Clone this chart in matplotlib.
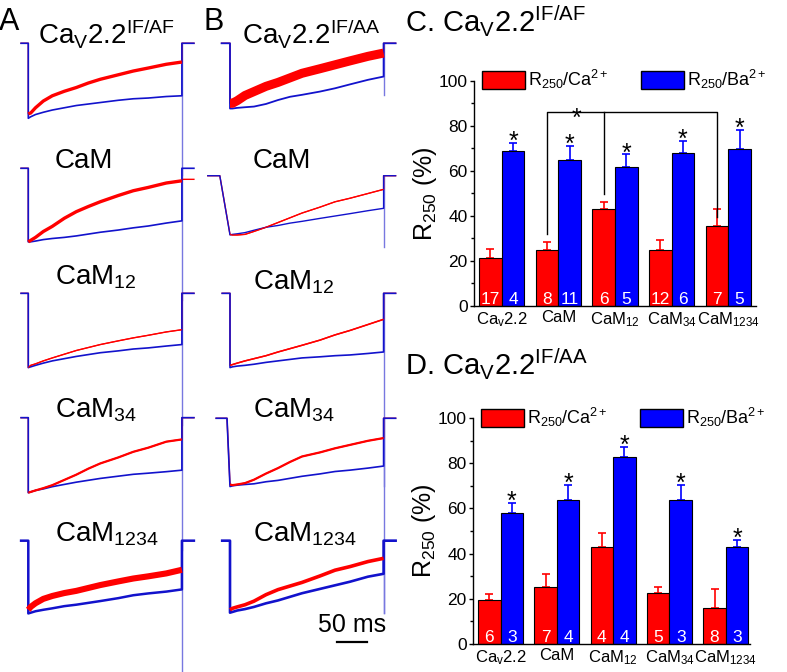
import numpy as np
import matplotlib
matplotlib.use('Agg')
import matplotlib.pyplot as plt
from matplotlib.patches import Patch

plt.rcParams['font.family'] = ['Liberation Sans', 'DejaVu Sans']
plt.rcParams['mathtext.fontset'] = 'custom'
plt.rcParams['mathtext.rm'] = 'Liberation Sans'
plt.rcParams['mathtext.it'] = 'Liberation Sans:italic'
plt.rcParams['mathtext.bf'] = 'Liberation Sans:bold'

# ---- bar data (R250, %) ----
groups = ['Ca$_\\mathrm{v}$2.2', 'CaM', 'CaM$_{12}$', 'CaM$_{34}$', 'CaM$_{1234}$']
c_ca = [21.5, 25.0, 43.0, 25.0, 35.5]
c_ca_err = [4.0, 3.5, 3.2, 4.2, 7.6]
c_ba = [68.8, 65.0, 61.7, 68.0, 69.7]
c_ba_err = [3.8, 6.1, 5.7, 5.5, 8.7]
c_n_ca = [17, 8, 6, 12, 7]
c_n_ba = [4, 11, 5, 6, 5]

d_ca = [19.6, 25.3, 43.0, 22.5, 16.1]
d_ca_err = [2.5, 5.6, 6.3, 2.7, 8.1]
d_ba = [58.0, 63.6, 82.8, 63.6, 42.9]
d_ba_err = [4.6, 6.8, 4.5, 6.8, 3.1]
d_n_ca = [6, 7, 4, 5, 8]
d_n_ba = [3, 4, 4, 3, 3]

# ---- current traces, fraction of peak inward current ----
t_ms = [0, 4, 12, 25, 40, 60, 80, 100, 120, 150, 175, 200, 230, 256]
a_labels = ['Ca$_\\mathrm{V}$2.2$^\\mathrm{IF/AF}$', 'CaM', 'CaM$_{12}$', 'CaM$_{34}$', 'CaM$_{1234}$']
b_labels = ['Ca$_\\mathrm{V}$2.2$^\\mathrm{IF/AA}$', 'CaM', 'CaM$_{12}$', 'CaM$_{34}$', 'CaM$_{1234}$']

a_ca = [[0.94, 0.93, 0.86, 0.77, 0.70, 0.64, 0.59, 0.53, 0.48, 0.42, 0.37, 0.33, 0.28, 0.25],
        [1.00, 0.98, 0.94, 0.86, 0.79, 0.68, 0.59, 0.52, 0.455, 0.37, 0.305, 0.26, 0.20, 0.17],
        [1.00, 0.97, 0.95, 0.91, 0.87, 0.82, 0.77, 0.73, 0.69, 0.64, 0.60, 0.565, 0.52, 0.49],
        [1.00, 0.99, 0.97, 0.94, 0.90, 0.83, 0.76, 0.68, 0.61, 0.53, 0.455, 0.40, 0.32, 0.29],
        [0.95, 0.91, 0.86, 0.80, 0.76, 0.72, 0.69, 0.65, 0.61, 0.56, 0.52, 0.49, 0.45, 0.40]]
a_ba = [[1.00, 0.98, 0.95, 0.92, 0.89, 0.86, 0.83, 0.81, 0.79, 0.76, 0.74, 0.73, 0.71, 0.70],
        [1.00, 1.00, 0.99, 0.97, 0.955, 0.94, 0.92, 0.895, 0.87, 0.84, 0.81, 0.785, 0.745, 0.715],
        [1.00, 0.99, 0.97, 0.94, 0.91, 0.88, 0.85, 0.825, 0.80, 0.775, 0.75, 0.735, 0.71, 0.69],
        [1.00, 0.99, 0.97, 0.95, 0.92, 0.89, 0.86, 0.835, 0.81, 0.78, 0.755, 0.74, 0.72, 0.70],
        [1.00, 0.99, 0.97, 0.95, 0.93, 0.90, 0.88, 0.855, 0.83, 0.79, 0.75, 0.725, 0.70, 0.67]]
b_ca = [[0.92, 0.92, 0.88, 0.80, 0.74, 0.66, 0.60, 0.53, 0.46, 0.39, 0.33, 0.27, 0.20, 0.15],
        [0.99, 1.00, 1.00, 0.99, 0.94, 0.87, 0.79, 0.71, 0.63, 0.53, 0.44, 0.38, 0.30, 0.23],
        [0.97, 0.96, 0.94, 0.91, 0.88, 0.84, 0.79, 0.745, 0.70, 0.63, 0.56, 0.50, 0.42, 0.35],
        [0.97, 0.98, 0.97, 0.95, 0.90, 0.81, 0.73, 0.64, 0.56, 0.50, 0.44, 0.39, 0.33, 0.29],
        [0.96, 0.94, 0.92, 0.89, 0.84, 0.75, 0.68, 0.63, 0.58, 0.49, 0.41, 0.36, 0.29, 0.245]]
b_ba = [[1.00, 1.00, 0.99, 0.98, 0.97, 0.93, 0.87, 0.82, 0.79, 0.74, 0.69, 0.63, 0.56, 0.51],
        [1.00, 0.99, 0.98, 0.96, 0.92, 0.87, 0.84, 0.80, 0.77, 0.72, 0.68, 0.64, 0.59, 0.55],
        [1.00, 0.99, 0.98, 0.97, 0.955, 0.93, 0.91, 0.89, 0.87, 0.855, 0.84, 0.83, 0.81, 0.79],
        [1.00, 0.99, 0.98, 0.97, 0.96, 0.93, 0.91, 0.88, 0.85, 0.815, 0.78, 0.76, 0.73, 0.70],
        [1.00, 0.99, 0.97, 0.95, 0.92, 0.87, 0.83, 0.78, 0.73, 0.67, 0.62, 0.57, 0.50, 0.46]]
a_ca_after = [0, 0.15, 0, 0, 0]
b_ca_after = [0, 0, 0, 0, 0]
a_onset = [0, 0, 0, 0, 0]
b_onset = [0, -17, 0, -5, 0]
a_start = [-12, -12, -12, -12, -12]
b_start = [-14, -37, -13, -23, -13]
a_amp = [1.0, 0.98, 0.99, 1.0, 0.97]
b_amp = [0.87, 0.79, 0.99, 0.91, 0.96]
a_tail = [1.76, 1.76, 1.76, 1.76, 1.8]
b_tail = [0.69, 0.95, 2.57, 2.6, 0.97]

# layout of stacked traces (trace units, 1 unit = 75 px)
a_base = [-0.577, -2.244, -3.911, -5.569, -7.209]
b_base = [-0.577, -2.343, -3.911, -5.577, -7.209]
a_lw = [2.4, 2.4, 0.8, 1.6, 4.4]
b_lw = [6.5, 0.8, 1.1, 1.6, 2.6]
a_blw = [1.2, 1.2, 1.2, 1.2, 1.8]
b_blw = [1.3, 1.0, 1.2, 1.2, 1.9]

W, H = 787, 672
fig = plt.figure(figsize=(W / 100, H / 100), dpi=100)


def px(x, y):
    return x / W, 1 - y / H


RED = '#ff0000'
BLUE = '#1212cc'
TAIL = '#7878e0'
t_end = 276
px_per_ms = 0.6
xlim = (-28.3 / px_per_ms, (200 - 28.3) / px_per_ms)


def trace_axes(left):
    ax = fig.add_axes([left / W, 0, 200 / W, 1])
    ax.set_xlim(xlim)
    ax.set_ylim(-H / 75, 0)
    ax.axis('off')
    return ax


def draw_col(ax, ca, ba, after, onset, start, amp, tail, base, lw, blw):
    for i in range(5):
        # thin full sweep (baseline, step, decay, return) for Ca2+
        t = [start[i], onset[i]] + t_ms + [t_ms[-1], t_end]
        y = np.array([0, 0] + [-v for v in ca[i]] + [-after[i], -after[i]])
        ax.plot(t, base[i] + amp[i] * y, color=RED, lw=1.0, clip_on=False, zorder=2)
        # Ba2+ sweep
        yb = np.array([0, 0] + [-v for v in ba[i]] + [0, 0])
        ax.plot(t, base[i] + amp[i] * yb, color=BLUE, lw=blw[i], clip_on=False, zorder=3)
        # noisy Ca2+ current during the pulse
        ax.plot(t_ms, base[i] - amp[i] * np.array(ca[i]), color=RED, lw=lw[i],
                solid_joinstyle='round', solid_capstyle='butt', clip_on=False, zorder=4)
        ax.plot([t_ms[-1], t_ms[-1]], [base[i], base[i] - tail[i]],
                color=TAIL, lw=1.0, clip_on=False, zorder=1)


axA = trace_axes(0)
draw_col(axA, a_ca, a_ba, a_ca_after, a_onset, a_start, a_amp, a_tail, a_base, a_lw, a_blw)
axB = trace_axes(201.7)
draw_col(axB, b_ca, b_ba, b_ca_after, b_onset, b_start, b_amp, b_tail, b_base, b_lw, b_blw)

# scale bar 50 ms
scale_ms = 50
axB.plot([178, 178 + scale_ms], [-642 / 75, -642 / 75], color='black', lw=1.6)
axB.text(178 + scale_ms / 2, -632 / 75, '%d ms' % scale_ms, ha='center',
         va='baseline', fontsize=18)

# panel letters and trace labels
fig.text(*px(-1, 30), 'A', fontsize=22, va='baseline')
fig.text(*px(204, 30), 'B', fontsize=22, va='baseline')
a_lab_pos = [(38, 43), (55, 168), (55, 285), (55, 417), (55, 541)]
b_lab_pos = [(242, 43), (253, 168), (253, 290), (253, 418), (253, 541)]
for lab, (x, y) in zip(a_labels, a_lab_pos):
    fig.text(*px(x, y), lab, fontsize=20, va='baseline')
for lab, (x, y) in zip(b_labels, b_lab_pos):
    fig.text(*px(x, y), lab, fontsize=20, va='baseline')


def bar_panel(left, right, top, bottom, xl, ca, ca_err, ba, ba_err, n_ca, n_ba, leg_y):
    ax = fig.add_axes([left / W, 1 - bottom / H, (right - left) / W, (bottom - top) / H])
    x = np.arange(len(groups))
    w = 0.4
    ax.bar(x - w / 2, ca, w, color='#ff0000', edgecolor='black', linewidth=0.8, zorder=2)
    ax.bar(x + w / 2, ba, w, color='#0000ff', edgecolor='black', linewidth=0.8, zorder=2)
    ax.errorbar(x - w / 2, ca, yerr=[np.zeros(len(ca)), ca_err], fmt='none',
                ecolor='#ff0000', elinewidth=1.2, capsize=3, capthick=1.2, zorder=1)
    ax.errorbar(x + w / 2, ba, yerr=[np.zeros(len(ba)), ba_err], fmt='none',
                ecolor='#0000ff', elinewidth=1.2, capsize=3, capthick=1.2, zorder=1)
    for i in range(len(groups)):
        ax.text(x[i] - w / 2, 1.0, str(n_ca[i]), color='white', ha='center',
                va='baseline', fontsize=12.5, zorder=3)
        ax.text(x[i] + w / 2, 1.0, str(n_ba[i]), color='white', ha='center',
                va='baseline', fontsize=12.5, zorder=3)
        ax.annotate('*', (x[i] + w / 2, ba[i] + ba_err[i]), xytext=(0, -4.5),
                    textcoords='offset points', ha='center', va='baseline', fontsize=18)
    ax.set_xlim(xl)
    ax.set_ylim(0, 100)
    ax.set_xticks(x)
    ax.set_xticklabels(groups)
    ax.set_yticks(range(0, 101, 20))
    ax.set_yticks(range(10, 100, 20), minor=True)
    ax.tick_params(axis='x', length=0, labelsize=12, pad=3)
    ax.tick_params(axis='y', which='major', direction='out', length=3, width=1,
                   labelsize=12.5, pad=1.5)
    ax.tick_params(axis='y', which='minor', direction='out', length=2, width=1)
    for s in ['top', 'right']:
        ax.spines[s].set_visible(False)
    for s in ['left', 'bottom']:
        ax.spines[s].set_linewidth(1)
    ax.set_ylabel('R$_{250}$ (%)', fontsize=18)
    ax.yaxis.set_label_coords(-0.125, 0.5)
    handles = [Patch(facecolor='#ff0000', edgecolor='black', linewidth=1),
               Patch(facecolor='#0000ff', edgecolor='black', linewidth=1)]
    ax.legend(handles, ['R$_{250}$/Ca$^{2+}$', 'R$_{250}$/Ba$^{2+}$'], loc='center left',
              bbox_to_anchor=(0.028, leg_y), ncol=2, frameon=False, fontsize=13,
              handlelength=2.4, handleheight=1.15, handletextpad=0.15,
              columnspacing=1.8, borderpad=0, borderaxespad=0)
    return ax


axC = bar_panel(474, 756, 81, 306, (-0.49, 4.49), c_ca, c_ca_err, c_ba, c_ba_err,
                c_n_ca, c_n_ba, 1.007)
axD = bar_panel(473, 750, 418, 644, (-0.49, 4.43), d_ca, d_ca_err, d_ba, d_ba_err,
                d_n_ca, d_n_ba, 1.002)

# significance bracket in C (CaM vs CaM12 vs CaM1234 under Ca2+)
br_y = 86.2
axC.plot([0.8, 0.8, 3.8, 3.8], [31.8, br_y, br_y, 39.5], color='black', lw=1)
axC.plot([1.8, 1.8], [br_y, 49.6], color='black', lw=1)
axC.annotate('*', (1.32, br_y), xytext=(0, -10), textcoords='offset points',
             ha='center', va='baseline', fontsize=18)

fig.text(*px(405, 32), 'C. Ca$_\\mathrm{V}$2.2$^\\mathrm{IF/AF}$', fontsize=21, va='baseline')
fig.text(*px(405, 375), 'D. Ca$_\\mathrm{V}$2.2$^\\mathrm{IF/AA}$', fontsize=21, va='baseline')

fig.savefig('out.png', dpi=100)
